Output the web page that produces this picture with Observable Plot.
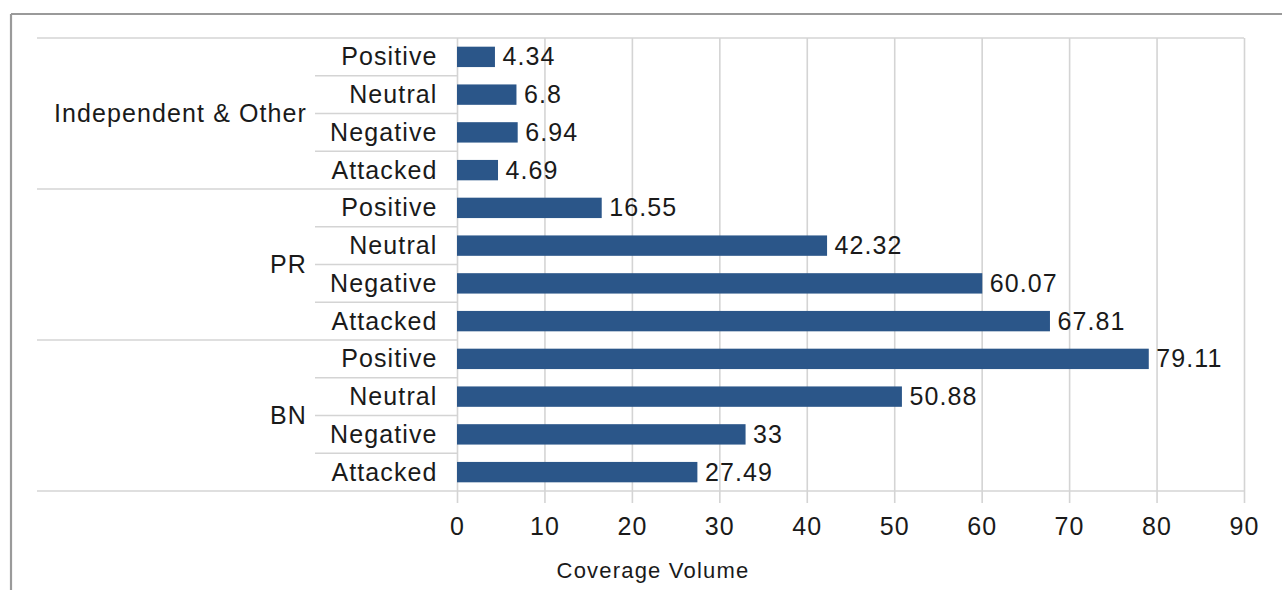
<!DOCTYPE html>
<html>
<head>
<meta charset="utf-8">
<script src="https://cdn.jsdelivr.net/npm/d3@7"></script>
<script src="https://cdn.jsdelivr.net/npm/@observablehq/plot@0.6"></script>
<style>
html, body { margin: 0; padding: 0; background: #fff; }
#chart { width: 1282px; height: 590px; }
</style>
</head>
<body>
<div id="chart"></div>
<script>
// ---- data ----
const groups = ["Independent & Other", "PR", "BN"];
const sentiments = ["Positive", "Neutral", "Negative", "Attacked"];
const independentValues = [4.34, 6.8, 6.94, 4.69];
const prValues = [16.55, 42.32, 60.07, 67.81];
const bnValues = [79.11, 50.88, 33, 27.49];
const xTicks = [0, 10, 20, 30, 40, 50, 60, 70, 80, 90];
const xLabel = "Coverage Volume";

// ---- build table ----
const seriesByGroup = [independentValues, prValues, bnValues];
const rows = [];
groups.forEach((g, gi) => {
  sentiments.forEach((s, si) => {
    rows.push({ group: g, sentiment: s, key: g + "|" + s, value: seriesByGroup[gi][si] });
  });
});
const keys = rows.map(d => d.key);

const W = 1282, H = 590;
const FONT = "'Liberation Sans', Arial, Helvetica, sans-serif";
const TEXT = "#1a1a1a";
const GRID = "#d4d4d4";
const BAR = "#2b5689";

const plot = Plot.plot({
  width: W,
  height: H,
  marginLeft: 457,
  marginRight: 38,
  marginTop: 38,
  marginBottom: 99,
  style: { fontFamily: FONT, background: "transparent", color: TEXT, letterSpacing: "1.1px", overflow: "visible" },
  x: { domain: [0, 90], ticks: xTicks },
  y: { domain: keys, paddingInner: 0.46, paddingOuter: 0.23, round: false },
  marks: [
    Plot.gridX(xTicks, { stroke: GRID, strokeOpacity: 1, strokeWidth: 1.6 }),
    Plot.barX(rows, { x: "value", y: "key", fill: BAR }),
    Plot.text(rows, {
      x: "value", y: "key", text: d => String(d.value),
      textAnchor: "start", dx: 7, fontSize: 25, fill: TEXT
    }),
    Plot.axisX({
      ticks: xTicks, tickSize: 12, tickPadding: 14, stroke: GRID, strokeWidth: 1.6,
      fill: TEXT, fontSize: 25, label: null
    }),
    Plot.axisY({
      tickSize: 0, tickPadding: 20, tickFormat: k => k.split("|")[1],
      fill: TEXT, fontSize: 25, label: null
    })
  ]
});

document.getElementById("chart").appendChild(plot);

// ---- decorations drawn with the plot's own scales ----
const svg = d3.select(plot);
const ys = plot.scale("y");
const xs = plot.scale("x");
const x0 = xs.apply(0);
const xEnd = xs.apply(90);
const boundary = k => ys.apply(k) + ys.bandwidth / 2 - ys.step / 2;
const lastBottom = boundary(keys[keys.length - 1]) + ys.step;

const deco = svg.append("g").attr("stroke", GRID).attr("stroke-width", 1.6);
// separators between sentiment rows and groups
rows.forEach((d, i) => {
  const isGroupStart = i % sentiments.length === 0;
  const y = boundary(d.key);
  deco.append("line")
    .attr("x1", isGroupStart ? 37 : 315).attr("x2", isGroupStart && i === 0 ? xEnd : x0)
    .attr("y1", y).attr("y2", y);
});
// bottom line
deco.append("line").attr("x1", 37).attr("x2", xEnd).attr("y1", lastBottom).attr("y2", lastBottom);

// group labels
groups.forEach((g, gi) => {
  const first = keys[gi * sentiments.length];
  const top = boundary(first);
  const mid = top + ys.step * sentiments.length / 2;
  svg.append("text")
    .attr("x", 307).attr("y", mid).attr("dy", "0.35em")
    .attr("text-anchor", "end")
    .attr("font-size", 25).attr("fill", TEXT)
    .text(g);
});

// axis title
svg.append("text")
  .attr("x", 653).attr("y", 570).attr("dy", "0.35em")
  .attr("text-anchor", "middle")
  .attr("font-size", 22).attr("fill", TEXT)
  .style("letter-spacing", "1.2px")
  .text(xLabel);

// outer frame (top and left border)
const frame = svg.append("g").attr("stroke", "#9a9a9a").attr("stroke-width", 2.2);
frame.append("line").attr("x1", 11).attr("x2", W).attr("y1", 14).attr("y2", 14);
frame.append("line").attr("x1", 11).attr("x2", 11).attr("y1", 14).attr("y2", H);
</script>
</body>
</html>
